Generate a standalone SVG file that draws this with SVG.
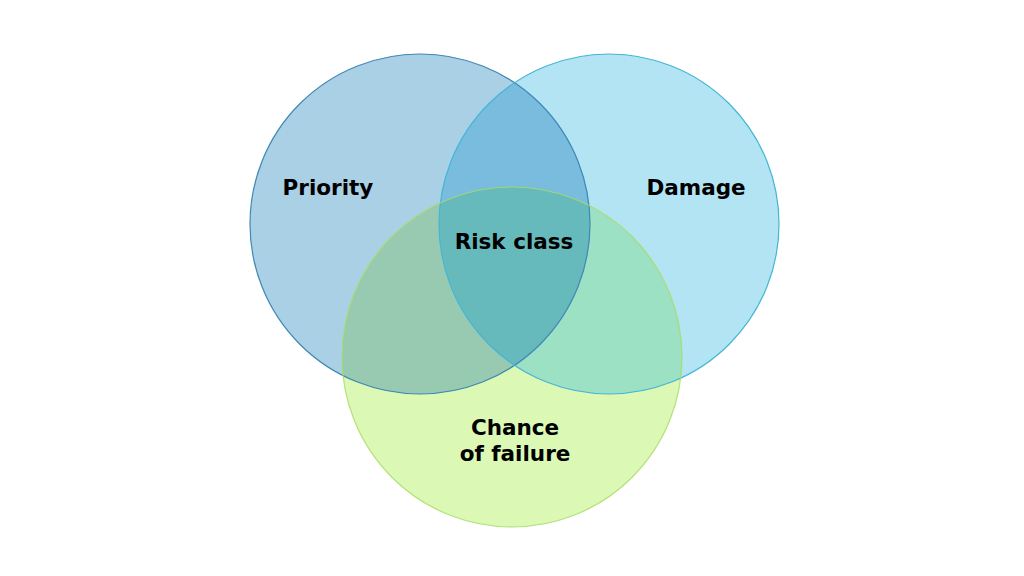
<svg xmlns="http://www.w3.org/2000/svg" width="1024" height="576" viewBox="0 0 1024 576">
  <style>
    .lbl { font-family: "DejaVu Sans", Verdana, sans-serif; font-weight: bold; font-size: 21.5px; fill: #000; text-anchor: middle; }
    .edge { fill: none; stroke-width: 1.2; }
  </style>
  <defs>
    <circle id="cL" cx="420" cy="224" r="170"/>
    <circle id="cR" cx="609" cy="224" r="170"/>
    <circle id="cB" cx="512" cy="357" r="170"/>
    <clipPath id="clipL"><use href="#cL"/></clipPath>
    <clipPath id="clipR"><use href="#cR"/></clipPath>
    <clipPath id="clipB"><use href="#cB"/></clipPath>
  </defs>
  <rect width="1024" height="576" fill="#ffffff"/>
  <g id="priority">
    <use href="#cL" fill="#A9D0E4"/>
  </g>
  <g id="damage">
    <use href="#cR" fill="#B2E4F3"/>
  </g>
  <g id="chance-of-failure">
    <use href="#cB" fill="#DBF8B5"/>
  </g>
  <g id="overlaps">
    <use href="#cR" fill="#79BCDD" clip-path="url(#clipL)"/>
    <use href="#cB" fill="#97CAB0" clip-path="url(#clipL)"/>
    <use href="#cB" fill="#9CE1C4" clip-path="url(#clipR)"/>
    <g clip-path="url(#clipR)">
      <use href="#cB" fill="#67BABC" clip-path="url(#clipL)"/>
    </g>
  </g>
  <g id="outlines">
    <use href="#cL" class="edge" stroke="#3F87B6"/>
    <use href="#cR" class="edge" stroke="#45B5D6"/>
    <use href="#cB" class="edge" stroke="#A6DB62" stroke-opacity="0.8"/>
  </g>
  <g id="labels">
    <text class="lbl" x="328" y="195">Priority</text>
    <text class="lbl" x="696" y="195">Damage</text>
    <text class="lbl" x="514" y="249">Risk class</text>
    <text class="lbl" x="515" y="435">Chance</text>
    <text class="lbl" x="515" y="461">of failure</text>
  </g>
</svg>
